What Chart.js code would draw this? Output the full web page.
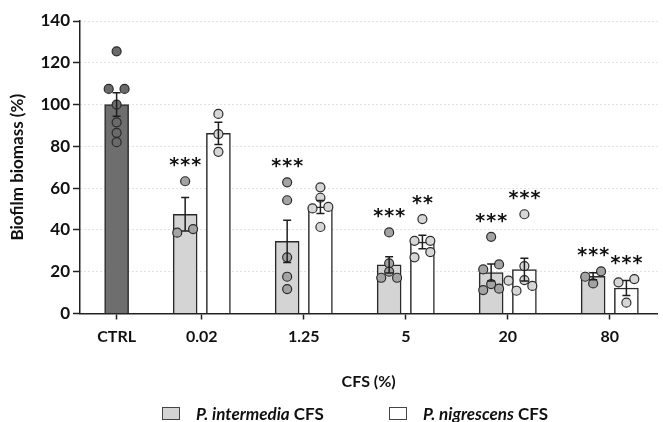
<!DOCTYPE html>
<html>
<head>
<meta charset="utf-8">
<script src="https://cdn.jsdelivr.net/npm/chart.js@4.4.0/dist/chart.umd.min.js"></script>
<style>
  body { margin: 0; background: #fff; }
  #wrap { position: relative; width: 663px; height: 422px; }
  .leg { position: absolute; top: 405px; height: 16px; display: flex; align-items: center;
         font: bold 17px Lato, sans-serif; color: #111; white-space: nowrap; }
  .leg .box { width: 16px; height: 11px; border: 1.5px solid #444; margin-right: 16px; }
</style>
</head>
<body>
<div id="wrap">
  <canvas id="myChart" width="663" height="422"></canvas>
  <div class="leg" style="left:162px"><span class="box" style="background:#d4d4d4"></span><span><i>P. intermedia</i> CFS</span></div>
  <div class="leg" style="left:389px"><span class="box" style="background:#fff"></span><span><i>P. nigrescens</i> CFS</span></div>
</div>
<script>
const categories = ['CTRL', '0.02', '1.25', '5', '20', '80'];
const yTicks = [0, 20, 40, 60, 80, 100, 120, 140];

const ctrlMean = 100;
const ctrlSem = 5.6;
const ctrlPoints = [125.5, 107.5, 107.5, 100, 91.5, 86.5, 82];

const intermediaMean = [47.5, 34.5, 23.3, 19.6, 17.8];
const intermediaSem = [8, 10.1, 3.9, 4.1, 1.7];
const intermediaPoints = [
    [63.3, 40.4, 38.7],
    [62.8, 54.2, 26.9, 17.6, 11.7],
    [38.8, 24, 20, 17.1, 17.1],
    [36.7, 23.5, 21.1, 14.1, 11.9, 11.2],
    [20.2, 17.6, 14.4]
];
const intermediaSig = ['***', '***', '***', '***', '***'];

const nigrescensMean = [86.2, 51, 34.2, 21, 12.2];
const nigrescensSem = [5.3, 3.1, 3.2, 5.4, 3.6];
const nigrescensPoints = [
    [95.5, 85.9, 77.4],
    [60.4, 55.4, 51, 50.3, 41.4],
    [45.2, 34.8, 34.8, 29.4, 26.9],
    [47.5, 22.7, 16, 15.7, 13.2, 10.9],
    [16.5, 14.9, 5.2]
];
const nigrescensSig = ['', '', '**', '***', '***'];

// layout on the x axis (1 unit = one category slot)
const ctrlX = 0.165;
const catX = [1, 2, 3, 4, 5];
const shift = 0.163;
const PX_X = 103, PX_Y = 2.09;

// simple beeswarm, offsets in px converted to x units
function swarm(vals) {
    const idx = vals.map((v, i) => i).sort((a, b) => vals[a] - vals[b]);
    const rows = [];
    idx.forEach(i => {
        const last = rows[rows.length - 1];
        if (last && (vals[i] - vals[last[0]]) * PX_Y < 5.5) last.push(i);
        else rows.push([i]);
    });
    const placed = [];
    const off = vals.map(() => 0);
    const cands = [0, -8, 8, -16, 16, -24, 24];
    rows.forEach(row => {
        for (const base of cands) {
            const xs = row.map((_, k) => base + (k - (row.length - 1) / 2) * 16);
            const ok = row.every((i, k) => placed.every(p => {
                const dx = xs[k] - p.x, dy = (vals[i] - p.v) * PX_Y;
                return Math.abs(dy) >= 8 || Math.hypot(dx, dy) >= 9;
            }));
            if (ok) {
                row.forEach((i, k) => { off[i] = xs[k] / PX_X; placed.push({ x: xs[k], v: vals[i] }); });
                break;
            }
        }
    });
    return off;
}

function pointsAt(x0, vals) {
    const off = swarm(vals);
    return vals.map((v, i) => ({ x: x0 + off[i], y: v }));
}

const groups = [{ x: ctrlX, mean: ctrlMean, sem: ctrlSem, pts: ctrlPoints, sig: '' }];
catX.forEach((c, i) => {
    groups.push({ x: c - shift, mean: intermediaMean[i], sem: intermediaSem[i], pts: intermediaPoints[i], sig: intermediaSig[i] });
    groups.push({ x: c + shift, mean: nigrescensMean[i], sem: nigrescensSem[i], pts: nigrescensPoints[i], sig: nigrescensSig[i] });
});

const errorBars = {
    id: 'errorBars',
    afterDatasetsDraw(chart) {
        const { ctx, scales: { x, y } } = chart;
        ctx.save();
        ctx.strokeStyle = '#1e1e1e';
        ctx.lineWidth = 1.5;
        groups.forEach(g => {
            const px = x.getPixelForValue(g.x);
            const t = y.getPixelForValue(g.mean + g.sem);
            const b = y.getPixelForValue(g.mean - g.sem);
            ctx.beginPath();
            ctx.moveTo(px, t); ctx.lineTo(px, b);
            ctx.moveTo(px - 4, t); ctx.lineTo(px + 4, t);
            ctx.moveTo(px - 4, b); ctx.lineTo(px + 4, b);
            ctx.stroke();
        });
        // significance stars
        ctx.fillStyle = '#111';
        ctx.font = 'bold 19px "DejaVu Sans"';
        ctx.textAlign = 'center';
        groups.forEach(g => {
            if (!g.sig) return;
            const top = Math.min(y.getPixelForValue(Math.max(...g.pts)), y.getPixelForValue(g.mean + g.sem));
            const cy = top - 20;
            const px = x.getPixelForValue(g.x);
            const n = g.sig.length;
            for (let k = 0; k < n; k++) {
                ctx.fillText('*', px + (k - (n - 1) / 2) * 11, cy + 10);
            }
        });
        ctx.restore();
    }
};

const ctx = document.getElementById('myChart');
const myChart = new Chart(ctx, {
    type: 'bar',
    data: {
        datasets: [{
            type: 'scatter',
            data: pointsAt(ctrlX, ctrlPoints),
            backgroundColor: '#6a6a6a',
            borderColor: '#2a2a2a',
            borderWidth: 1.2,
            pointRadius: 4.5,
            order: 0
        }, {
            type: 'scatter',
            data: intermediaPoints.flatMap((p, i) => pointsAt(catX[i] - shift, p)),
            backgroundColor: '#a3a3a3',
            borderColor: '#2a2a2a',
            borderWidth: 1.2,
            pointRadius: 4.5,
            order: 0
        }, {
            type: 'scatter',
            data: nigrescensPoints.flatMap((p, i) => pointsAt(catX[i] + shift, p)),
            backgroundColor: '#d6d6d6',
            borderColor: '#2a2a2a',
            borderWidth: 1.2,
            pointRadius: 4.5,
            order: 0
        }, {
            label: 'CTRL',
            data: [{ x: ctrlX, y: ctrlMean }],
            backgroundColor: '#6e6e6e',
            borderColor: '#2a2a2a',
            borderWidth: 1.5,
            barThickness: 24,
            grouped: false,
            order: 2
        }, {
            label: 'P. intermedia CFS',
            data: intermediaMean.map((m, i) => ({ x: catX[i] - shift, y: m })),
            backgroundColor: '#d4d4d4',
            borderColor: '#2a2a2a',
            borderWidth: 1.5,
            barThickness: 24,
            grouped: false,
            order: 2
        }, {
            label: 'P. nigrescens CFS',
            data: nigrescensMean.map((m, i) => ({ x: catX[i] + shift, y: m })),
            backgroundColor: '#ffffff',
            borderColor: '#2a2a2a',
            borderWidth: 1.5,
            barThickness: 24,
            grouped: false,
            order: 2
        }]
    },
    options: {
        responsive: false,
        animation: false,
        layout: { padding: { top: 21, right: 0, left: 0, bottom: 0 } },
        plugins: { legend: { display: false }, tooltip: { enabled: false } },
        scales: {
            x: {
                type: 'linear',
                min: -0.194,
                max: 5.466,
                offset: false,
                afterFit: s => { s.height = 108.5; },
                afterBuildTicks: s => { s.ticks = [ctrlX, ...catX].map(v => ({ value: v })); },
                ticks: {
                    callback: (v, i) => categories[i],
                    autoSkip: false,
                    maxRotation: 0,
                    padding: 8,
                    color: '#111',
                    font: { family: 'Lato', size: 16, weight: 'bold' }
                },
                grid: { drawOnChartArea: false, tickLength: 6, tickColor: '#222', tickWidth: 1.5, offset: false },
                border: { color: '#222', width: 1.5 },
                title: {
                    display: true,
                    text: 'CFS (%)',
                    color: '#111',
                    font: { family: 'Lato', size: 16, weight: 'bold' },
                    padding: { top: 0, bottom: 31 }
                }
            },
            y: {
                min: 0,
                max: 140,
                afterFit: s => { s.width = 80; },
                afterBuildTicks: s => { s.ticks = yTicks.map(v => ({ value: v })); },
                ticks: {
                    padding: 3,
                    color: '#111',
                    font: { family: 'Lato', size: 17, weight: 'bold' }
                },
                grid: { color: '#c4c4c4', lineWidth: 1, tickLength: 7, tickColor: '#222', tickWidth: 1.5, tickBorderDash: [] },
                border: { color: '#222', width: 1.5, dash: [1, 3] },
                title: {
                    display: true,
                    text: 'Biofilm biomass (%)',
                    color: '#111',
                    font: { family: 'Lato', size: 17, weight: 'bold' },
                    padding: { top: 7, bottom: 0 }
                }
            }
        }
    },
    plugins: [errorBars]
});
</script>
</body>
</html>
